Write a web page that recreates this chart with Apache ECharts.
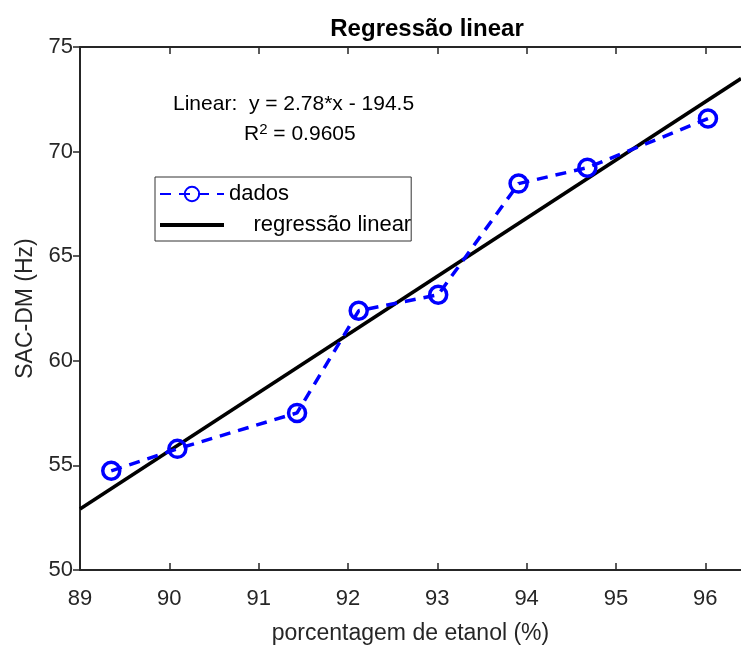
<!DOCTYPE html>
<html>
<head>
<meta charset="utf-8">
<script src="https://cdn.jsdelivr.net/npm/echarts@6/dist/echarts.min.js"></script>
<style>
  html, body { margin: 0; padding: 0; background: #fff; }
  #main { width: 741px; height: 646px; }
</style>
</head>
<body>
<div id="main"></div>
<script>
// pontos medidos
var etanol = [89.35, 90.09, 91.43, 92.12, 93.01, 93.91, 94.68, 96.03];
var sacdm = [54.74, 55.79, 57.51, 62.39, 63.16, 68.47, 69.23, 71.58];
// regressão: y = a*x + b
var slope = 2.78;
var intercept = -194.5;
var xLimits = [89, 96.4];
var xTicks = [89, 90, 91, 92, 93, 94, 95, 96];
var yTicks = [50, 55, 60, 65, 70, 75];

var chart = echarts.init(document.getElementById('main'));
var font = 'Liberation Sans, Arial, sans-serif';
var axisColor = '#262626';

var dados = etanol.map(function (x, i) { return [x, sacdm[i]]; });
var reta = xLimits.map(function (x) { return [x, slope * x + intercept]; });

var option = {
    animation: false,
    title: {
        text: 'Regressão linear',
        left: 422,
        top: 12,
        textAlign: 'center',
        textStyle: { fontFamily: font, fontSize: 24, fontWeight: 'bold', color: '#000' }
    },
    legend: {
        orient: 'vertical',
        left: 155,
        top: 177,
        itemWidth: 64,
        itemHeight: 18,
        itemGap: 9,
        padding: [6, 0, 5, 4],
        borderColor: '#333',
        borderWidth: 1,
        backgroundColor: '#fff',
        textStyle: { fontFamily: font, fontSize: 22, color: '#000' },
        data: [
            { name: 'dados' },
            { name: '    regressão linear', icon: 'path://M0,0 L64,0 L64,4 L0,4 Z' }
        ]
    },
    grid: { left: 80, right: 0, top: 47, bottom: 76, outerBoundsMode: 'none' },
    xAxis: [{
        type: 'value',
        min: xLimits[0],
        max: xLimits[1],
        interval: 1,
        name: 'porcentagem de etanol (%)',
        nameLocation: 'middle',
        nameGap: 52,
        nameTextStyle: { fontFamily: font, fontSize: 23, color: axisColor },
        axisLine: { show: true, onZero: false, lineStyle: { color: axisColor, width: 2 } },
        axisTick: { show: true, inside: true, length: 7, lineStyle: { color: axisColor, width: 1.5 },
            customValues: xTicks },
        axisLabel: { fontFamily: font, fontSize: 22, color: axisColor, margin: 18,
            customValues: xTicks },
        splitLine: { show: false }
    }, {
        type: 'value',
        position: 'top',
        min: xLimits[0],
        max: xLimits[1],
        interval: 1,
        axisLine: { show: true, lineStyle: { color: axisColor, width: 2 } },
        axisTick: { show: true, inside: true, length: 7, lineStyle: { color: axisColor, width: 1.5 },
            customValues: xTicks },
        axisLabel: { show: false },
        splitLine: { show: false }
    }],
    yAxis: {
        type: 'value',
        min: 50,
        max: 75,
        interval: 5,
        name: 'SAC-DM (Hz)',
        nameLocation: 'middle',
        nameGap: 43,
        nameTextStyle: { fontFamily: font, fontSize: 23, color: axisColor },
        axisLine: { show: true, lineStyle: { color: axisColor, width: 2 } },
        axisTick: { show: true, inside: false, length: 7, lineStyle: { color: axisColor, width: 1.5 },
            customValues: yTicks },
        axisLabel: { fontFamily: font, fontSize: 22, color: axisColor, margin: 7,
            customValues: yTicks },
        splitLine: { show: false }
    },
    graphic: [{
        type: 'text',
        left: 173,
        top: 94,
        style: { text: 'Linear:  y = 2.78*x - 194.5', font: '21px ' + font, fill: '#000' }
    }, {
        type: 'text',
        left: 244,
        top: 122,
        style: {
            text: '{r|R}{s|2}{r| = 0.9605}',
            rich: {
                r: { font: '21px ' + font, fill: '#000', verticalAlign: 'bottom' },
                s: { font: '15px ' + font, fill: '#000', verticalAlign: 'top', padding: [0, 0, 8, 0] }
            }
        }
    }],
    series: [{
        name: 'dados',
        type: 'line',
        data: dados,
        symbol: 'circle',
        symbolSize: 17,
        showAllSymbol: true,
        lineStyle: { color: '#0000ff', width: 3.5, type: [11, 8] },
        itemStyle: { color: 'rgba(255,255,255,0)', borderColor: '#0000ff', borderWidth: 3.5 },
        z: 3
    }, {
        name: '    regressão linear',
        type: 'line',
        data: reta,
        symbol: 'none',
        lineStyle: { color: '#000', width: 3.5 },
        itemStyle: { color: '#000' },
        z: 2
    }]
};

chart.setOption(option);
</script>
</body>
</html>
